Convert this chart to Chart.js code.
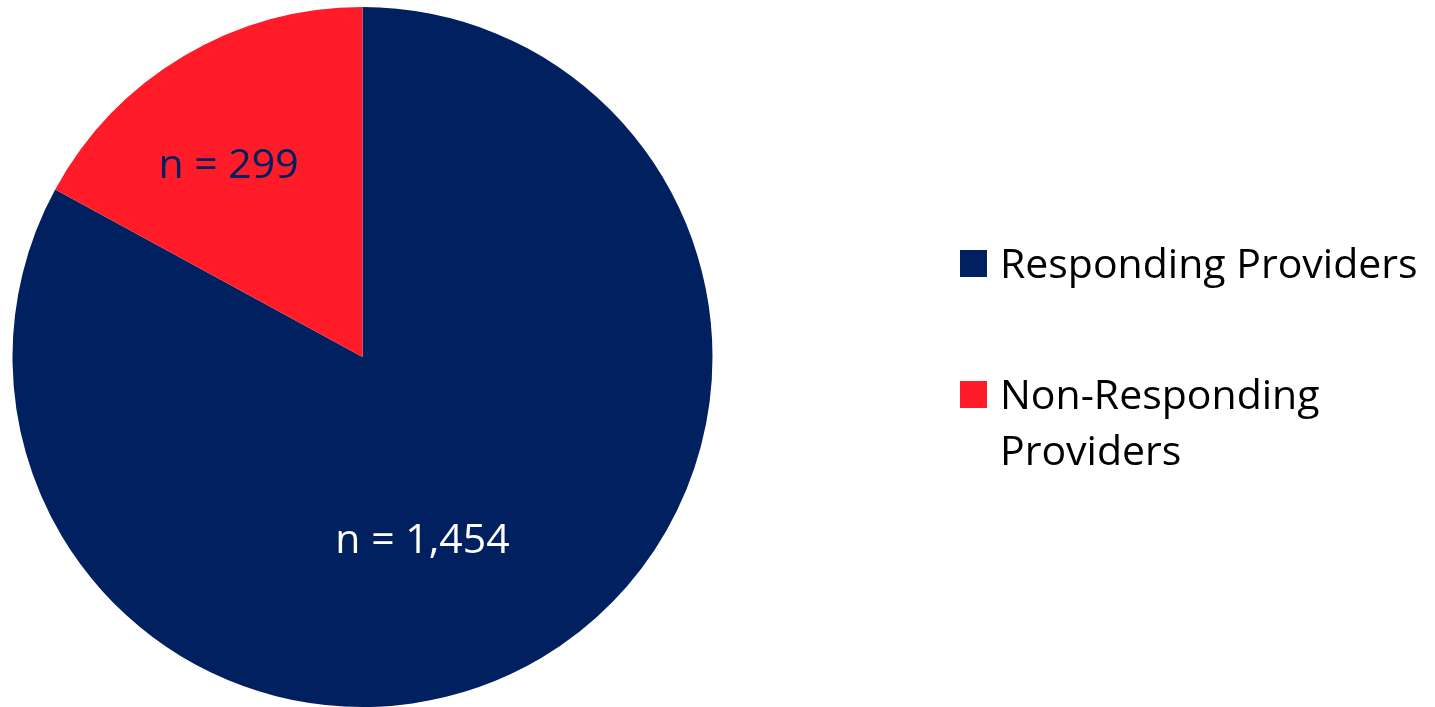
<!DOCTYPE html>
<html lang="en">
<head>
    <meta charset="UTF-8">
    <title>Responding vs Non-Responding Providers</title>
    <script src="https://cdn.jsdelivr.net/npm/chart.js"></script>
    <style>
      html, body { margin: 0; padding: 0; background: #fff; }
      #pie { display: block; }
    </style>
</head>
<body>
    <canvas id="pie" width="1435" height="707"></canvas>

    <script>
        // data
        const categories = ['Responding Providers', 'Non-Responding Providers'];
        const legendLines = [['Responding Providers'], ['Non-Responding', 'Providers']];
        const counts = [1454, 299];
        const colors = ['#002060', '#FF1C28'];
        const labelColors = ['#FFFFFF', '#002060'];

        const FONT = '41px "Open Sans", Lato, sans-serif';

        // slice labels "n = ..." : baseline centre given as angle from top (deg) and radius fraction
        const labelSpots = [[163.0, 0.586], [-36.8, 0.639]];

        const sliceLabels = {
            id: 'sliceLabels',
            afterDatasetsDraw(chart) {
                const {ctx} = chart;
                const arcs = chart.getDatasetMeta(0).data;
                ctx.save();
                ctx.font = FONT;
                ctx.textAlign = 'center';
                ctx.textBaseline = 'alphabetic';
                arcs.forEach((arc, i) => {
                    const a = labelSpots[i][0] * Math.PI / 180;
                    const r = arc.outerRadius * labelSpots[i][1];
                    const x = arc.x + Math.sin(a) * r;
                    const y = arc.y - Math.cos(a) * r;
                    ctx.fillStyle = labelColors[i];
                    ctx.fillText('n = ' + counts[i].toLocaleString('en-US'), x, y);
                });
                ctx.restore();
            }
        };

        // legend on the right, wrapped like the original
        const sideLegend = {
            id: 'sideLegend',
            afterDraw(chart) {
                const {ctx} = chart;
                const x0 = 960, box = 27, textX = 1000, lineH = 56;
                const tops = [250, 381];
                ctx.save();
                ctx.font = FONT;
                ctx.textAlign = 'left';
                ctx.textBaseline = 'alphabetic';
                categories.forEach((c, i) => {
                    ctx.fillStyle = colors[i];
                    ctx.fillRect(x0, tops[i], box, box);
                    ctx.fillStyle = '#000';
                    legendLines[i].forEach((line, j) => {
                        ctx.fillText(line, textX, tops[i] + 28 + j * lineH);
                    });
                });
                ctx.restore();
            }
        };

        new Chart(document.getElementById('pie').getContext('2d'), {
            type: 'pie',
            data: {
                labels: categories,
                datasets: [{
                    data: counts,
                    backgroundColor: colors,
                    borderWidth: 0
                }]
            },
            options: {
                responsive: false,
                animation: false,
                layout: { padding: { left: 12, top: 7, right: 722, bottom: 0 } },
                plugins: {
                    legend: { display: false },
                    tooltip: { enabled: false }
                }
            },
            plugins: [sliceLabels, sideLegend]
        });
    </script>
</body>
</html>
